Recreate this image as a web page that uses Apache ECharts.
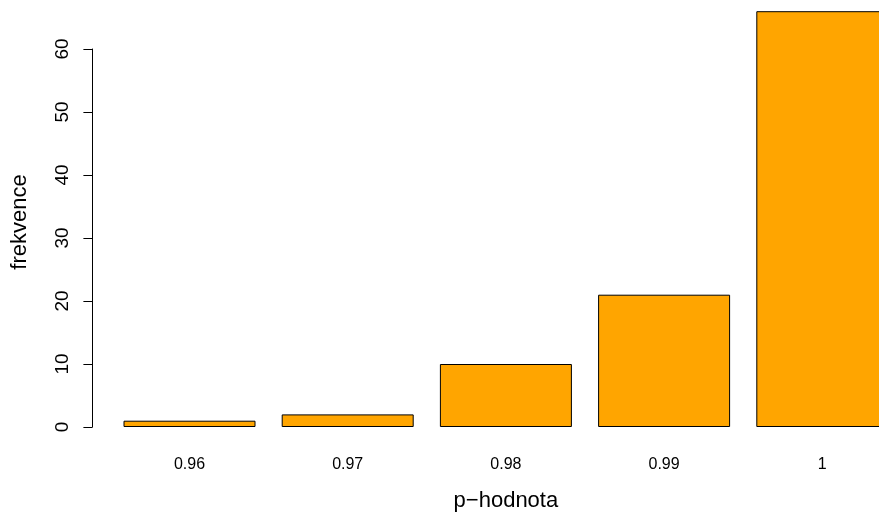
<!DOCTYPE html>
<html>
<head>
<meta charset="utf-8">
<script src="https://cdn.jsdelivr.net/npm/echarts@6/dist/echarts.min.js"></script>
<style>
  html, body { margin: 0; padding: 0; background: #ffffff; }
  #chart { width: 879px; height: 514px; }
</style>
</head>
<body>
<div id="chart"></div>
<script>
// p-values and how often each one occurs
const pValues = ['0.96', '0.97', '0.98', '0.99', '1'];
const counts = [1, 2, 10, 21, 66];
const yTicks = [0, 10, 20, 30, 40, 50, 60];

const xTitle = 'p\u2212hodnota';
const yTitle = 'frekvence';

const font = 'Liberation Sans, Arial, Helvetica, sans-serif';

const chart = echarts.init(document.getElementById('chart'), null, { renderer: 'canvas' });

chart.setOption({
  animation: false,
  backgroundColor: '#ffffff',
  // plot area runs past the right edge, so the last bar is cut off
  grid: {
    left: 110.4, width: 791, top: 49, bottom: 87,
    containLabel: false, outerBoundsMode: 'none'
  },
  xAxis: {
    type: 'category',
    data: pValues,
    boundaryGap: true,
    axisLine: { show: false },
    axisTick: { show: false },
    splitLine: { show: false },
    axisLabel: { color: '#000', fontFamily: font, fontSize: 16, margin: 30 },
    name: xTitle,
    nameLocation: 'middle',
    nameGap: 63,
    nameTextStyle: { color: '#000', fontFamily: font, fontSize: 22 }
  },
  yAxis: {
    type: 'value',
    min: yTicks[0],
    max: yTicks[yTicks.length - 1],
    interval: 10,
    offset: 18,
    axisLine: { show: true, lineStyle: { color: '#000', width: 1 } },
    axisTick: { show: true, length: 9, inside: false, lineStyle: { color: '#000', width: 1 } },
    splitLine: { show: false },
    axisLabel: { color: '#000', fontFamily: font, fontSize: 19, rotate: 90, margin: 20 }
  },
  graphic: [{
    type: 'text',
    x: 20,
    y: 222,
    rotation: Math.PI / 2,
    style: {
      text: yTitle,
      fill: '#000',
      font: '22px ' + font,
      textAlign: 'center',
      textVerticalAlign: 'middle'
    }
  }],
  series: [{
    type: 'bar',
    data: counts,
    barWidth: 132,
    clip: false,
    itemStyle: { color: '#FFA500', borderColor: '#000', borderWidth: 1 },
    emphasis: { disabled: true }
  }]
});
</script>
</body>
</html>
